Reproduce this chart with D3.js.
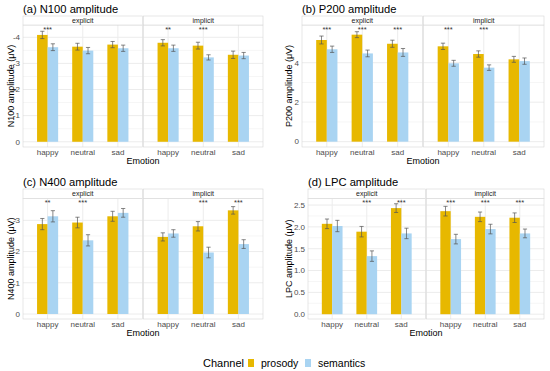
<!DOCTYPE html>
<html>
<head>
<meta charset="utf-8">
<script src="https://cdn.jsdelivr.net/npm/d3@7"></script>
<style>
  body { margin: 0; background: #fff; }
  svg { font-family: "Liberation Sans", Arial, sans-serif; }
</style>
</head>
<body>
<div id="chart"></div>
<script>
// categories
const emotions = ['happy', 'neutral', 'sad']
const tasks = ['explicit', 'implicit']
const channels = ['prosody', 'semantics']

// values ordered explicit happy/neutral/sad, implicit happy/neutral/sad
const n100Prosody = [-4.09, -3.64, -3.72, -3.79, -3.68, -3.33]
const n100Semantics = [-3.62, -3.49, -3.58, -3.58, -3.23, -3.30]
const n100ProsodySE = [0.14, 0.13, 0.12, 0.12, 0.13, 0.14]
const n100SemanticsSE = [0.13, 0.12, 0.12, 0.12, 0.10, 0.12]
const n100Sig = ['***', '', '', '**', '***', '']

const p200Prosody = [5.15, 5.42, 4.96, 4.83, 4.44, 4.17]
const p200Semantics = [4.68, 4.47, 4.52, 3.97, 3.75, 4.08]
const p200ProsodySE = [0.20, 0.15, 0.18, 0.16, 0.16, 0.15]
const p200SemanticsSE = [0.16, 0.17, 0.20, 0.15, 0.14, 0.16]
const p200Sig = ['***', '***', '***', '***', '***', '']

const n400Prosody = [-2.88, -2.93, -3.13, -2.47, -2.81, -3.32]
const n400Semantics = [-3.13, -2.36, -3.24, -2.58, -1.97, -2.24]
const n400ProsodySE = [0.18, 0.17, 0.16, 0.13, 0.15, 0.12]
const n400SemanticsSE = [0.18, 0.18, 0.14, 0.12, 0.17, 0.14]
const n400Sig = ['**', '***', '', '', '***', '***']

const lpcProsody = [2.07, 1.89, 2.43, 2.36, 2.23, 2.21]
const lpcSemantics = [2.02, 1.33, 1.85, 1.72, 1.95, 1.85]
const lpcProsodySE = [0.11, 0.12, 0.10, 0.11, 0.11, 0.11]
const lpcSemanticsSE = [0.13, 0.12, 0.12, 0.11, 0.11, 0.10]
const lpcSig = ['', '***', '***', '***', '***', '***']

const n100Ticks = [0, -1, -2, -3, -4]
const p200Ticks = [0, 2, 4]
const n400Ticks = [0, -1, -2, -3]
const lpcTicks = [0, 0.5, 1, 1.5, 2, 2.5]

const colors = {prosody: '#E7B800', semantics: '#A9D4F2'}

const intFmt = d => String(d)
const oneFmt = d => d.toFixed(1)

const panels = [
  {title: '(a) N100 amplitude', ytitle: 'N100 amplitude (\u03bcV)', pro: n100Prosody, sem: n100Semantics, proSE: n100ProsodySE, semSE: n100SemanticsSE, sig: n100Sig,
   ticks: n100Ticks, fmt: intFmt, domain: [0.2, -4.47], left: 23, right: 263, top: 16, stripH: 9, bottom: 147, ytx: 11},
  {title: '(b) P200 amplitude', ytitle: 'P200 amplitude (\u03bcV)', pro: p200Prosody, sem: p200Semantics, proSE: p200ProsodySE, semSE: p200SemanticsSE, sig: p200Sig,
   ticks: p200Ticks, fmt: intFmt, domain: [-0.27, 5.91], left: 302, right: 544, top: 16, stripH: 9, bottom: 147, ytx: 289},
  {title: '(c) N400 amplitude', ytitle: 'N400 amplitude (\u03bcV)', pro: n400Prosody, sem: n400Semantics, proSE: n400ProsodySE, semSE: n400SemanticsSE, sig: n400Sig,
   ticks: n400Ticks, fmt: intFmt, domain: [0.16, -3.70], left: 23, right: 263, top: 189, stripH: 9.5, bottom: 319, ytx: 11},
  {title: '(d) LPC amplitude', ytitle: 'LPC amplitude (\u03bcV)', pro: lpcProsody, sem: lpcSemantics, proSE: lpcProsodySE, semSE: lpcSemanticsSE, sig: lpcSig,
   ticks: lpcTicks, fmt: oneFmt, domain: [-0.11, 2.65], left: 308, right: 544, top: 189, stripH: 9.5, bottom: 319, ytx: 289}
]

const width = 550
const height = 371

const svg = d3.select('#chart')
  .append('svg')
  .attr('width', width)
  .attr('height', height)

panels.forEach(p => {
  const g = svg.append('g')
  const panelTop = p.top + p.stripH
  const y = d3.scaleLinear().domain(p.domain).range([p.bottom, panelTop])
  const facet = d3.scaleBand().domain(tasks).range([p.left, p.right]).paddingInner(0)

  // title
  g.append('text')
    .attr('x', p.left)
    .attr('y', p.top - 3.5)
    .attr('font-size', 11.2)
    .attr('fill', '#000')
    .text(p.title)

  // y axis title
  g.append('text')
    .attr('transform', `translate(${p.ytx},${(panelTop + p.bottom) / 2}) rotate(-90)`)
    .attr('text-anchor', 'middle')
    .attr('dy', '0.35em')
    .attr('font-size', 9)
    .attr('fill', '#000')
    .text(p.ytitle)

  // y tick labels
  g.selectAll('.ytick')
    .data(p.ticks)
    .enter()
    .append('text')
    .attr('x', p.left - 3)
    .attr('y', d => y(d))
    .attr('dy', '0.35em')
    .attr('text-anchor', 'end')
    .attr('font-size', 8)
    .attr('fill', '#4d4d4d')
    .text(d => p.fmt(d))

  // x title
  g.append('text')
    .attr('x', (p.left + p.right) / 2)
    .attr('y', p.bottom + 17)
    .attr('text-anchor', 'middle')
    .attr('font-size', 9)
    .attr('fill', '#000')
    .text('Emotion')

  tasks.forEach((task, ti) => {
    const x0 = facet(task) + (ti === 1 ? 0.5 : 0)
    const x1 = facet(task) + facet.bandwidth() - (ti === 0 ? 0.5 : 0)
    const x = d3.scaleBand().domain(emotions).range([x0, x1]).paddingInner(0.4).paddingOuter(0.4)
    const xc = d3.scaleBand().domain(channels).range([0, x.bandwidth()])
    const fg = g.append('g')

    // grid
    const minor = p.ticks.slice(0, -1).map((t, i) => (t + p.ticks[i + 1]) / 2)
    fg.selectAll('.minor')
      .data(minor)
      .enter()
      .append('line')
      .attr('x1', x0).attr('x2', x1)
      .attr('y1', d => y(d)).attr('y2', d => y(d))
      .attr('stroke', '#f6f6f6')
    fg.selectAll('.major')
      .data(p.ticks)
      .enter()
      .append('line')
      .attr('x1', x0).attr('x2', x1)
      .attr('y1', d => y(d)).attr('y2', d => y(d))
      .attr('stroke', '#ececec')
    fg.selectAll('.vgrid')
      .data(emotions)
      .enter()
      .append('line')
      .attr('x1', d => x(d) + x.bandwidth() / 2).attr('x2', d => x(d) + x.bandwidth() / 2)
      .attr('y1', panelTop).attr('y2', p.bottom)
      .attr('stroke', '#ececec')

    const rows = emotions.map((e, ei) => {
      const i = ti * 3 + ei
      return {emotion: e, sig: p.sig[i], vals: [
        {ch: 'prosody', v: p.pro[i], se: p.proSE[i]},
        {ch: 'semantics', v: p.sem[i], se: p.semSE[i]}
      ]}
    })

    const grp = fg.selectAll('.grp')
      .data(rows)
      .enter()
      .append('g')
      .attr('transform', d => `translate(${x(d.emotion)},0)`)

    grp.selectAll('rect')
      .data(d => d.vals)
      .enter()
      .append('rect')
      .attr('x', d => xc(d.ch))
      .attr('width', xc.bandwidth())
      .attr('y', d => Math.min(y(d.v), y(0)))
      .attr('height', d => Math.abs(y(0) - y(d.v)))
      .attr('fill', d => colors[d.ch])

    const err = grp.selectAll('.err')
      .data(d => d.vals)
      .enter()
      .append('g')
      .attr('stroke', '#555')
      .attr('stroke-width', 0.7)
    const capW = xc.bandwidth() * 0.2
    err.append('line')
      .attr('x1', d => xc(d.ch) + xc.bandwidth() / 2)
      .attr('x2', d => xc(d.ch) + xc.bandwidth() / 2)
      .attr('y1', d => y(d.v - d.se))
      .attr('y2', d => y(d.v + d.se))
    err.selectAll('.cap')
      .data(d => [d.v - d.se, d.v + d.se].map(v => ({ch: d.ch, v})))
      .enter()
      .append('line')
      .attr('x1', d => xc(d.ch) + xc.bandwidth() / 2 - capW)
      .attr('x2', d => xc(d.ch) + xc.bandwidth() / 2 + capW)
      .attr('y1', d => y(d.v))
      .attr('y2', d => y(d.v))

    grp.append('text')
      .attr('x', x.bandwidth() / 2)
      .attr('y', panelTop + 6.5)
      .attr('text-anchor', 'middle')
      .attr('font-size', 7.5)
      .attr('fill', '#333')
      .text(d => d.sig)

    // x tick labels
    fg.selectAll('.xlab')
      .data(emotions)
      .enter()
      .append('text')
      .attr('x', d => x(d) + x.bandwidth() / 2)
      .attr('y', p.bottom + 8)
      .attr('text-anchor', 'middle')
      .attr('font-size', 8)
      .attr('fill', '#4d4d4d')
      .text(d => d)

    // border
    fg.append('rect')
      .attr('x', x0).attr('y', panelTop)
      .attr('width', x1 - x0).attr('height', p.bottom - panelTop)
      .attr('fill', 'none')
      .attr('stroke', '#d6d6d6')
      .attr('stroke-width', 0.6)

    // strip
    fg.append('rect')
      .attr('x', x0).attr('y', p.top)
      .attr('width', x1 - x0).attr('height', p.stripH)
      .attr('fill', '#fff')
      .attr('stroke', '#d6d6d6')
      .attr('stroke-width', 0.6)
    fg.append('text')
      .attr('x', (x0 + x1) / 2)
      .attr('y', p.top + p.stripH / 2)
      .attr('dy', '0.35em')
      .attr('text-anchor', 'middle')
      .attr('font-size', 7)
      .attr('fill', '#1a1a1a')
      .text(task)
  })
})

// legend
const legend = svg.append('g').attr('transform', 'translate(203,363)')
legend.append('text')
  .attr('x', 0).attr('y', 0).attr('dy', '0.35em')
  .attr('font-size', 11)
  .text('Channel')
const items = legend.selectAll('.item')
  .data(channels)
  .enter()
  .append('g')
  .attr('transform', (d, i) => `translate(${i === 0 ? 45 : 102},0)`)
items.append('rect')
  .attr('x', 0).attr('y', -4)
  .attr('width', 6).attr('height', 8)
  .attr('fill', d => colors[d])
items.append('text')
  .attr('x', 13).attr('y', 0).attr('dy', '0.35em')
  .attr('font-size', 10.5)
  .text(d => d)
</script>
</body>
</html>
